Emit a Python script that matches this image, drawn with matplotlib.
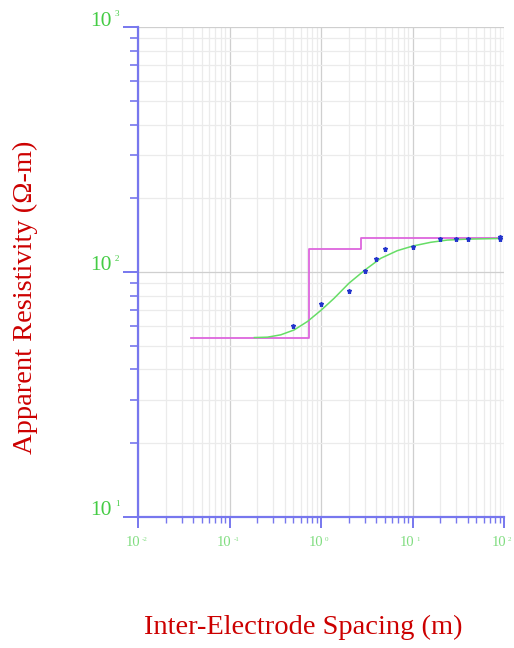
import matplotlib
matplotlib.use('Agg')
import matplotlib.pyplot as plt
from matplotlib.ticker import LogLocator, NullFormatter

# measured apparent resistivity
spacing = [0.5, 1, 2, 3, 4, 5, 10, 20, 30, 40, 90, 90]
resistivity = [60, 74, 83.5, 101, 113, 124, 127, 136, 136, 136, 139, 136]

# fitted curve
fit_spacing = [0.187, 0.26, 0.363, 0.508, 0.711, 1.01, 1.39, 2.02, 3.02, 4.49,
               6.82, 10.1, 15.8, 24.0, 39.6, 90]
fit_resistivity = [54.0, 54.2, 55.4, 58.0, 62.8, 70.0, 78.1, 90.0, 101.9, 113.7,
                   122.2, 127.7, 132.2, 135.0, 136.2, 137.0]

# layered model (step)
model_depth = [0.038, 0.73, 2.71, 90]
model_rho = [53.7, 124, 137.5, 137.5]

y_ticks = [10, 100, 1000]
y_exp = ['1', '2', '3']
x_ticks = [0.01, 0.1, 1, 10, 100]
x_exp = ['-2', '-1', '0', '1', '2']

blue = '#7777ee'
green = '#44cc44'
light_green = '#80dd80'
red = '#cc0000'

fig = plt.figure(figsize=(5.14, 6.48), dpi=100)
ax = fig.add_axes([0.2685, 0.2022, 0.7121, 0.7561])
ax.set_xscale('log')
ax.set_yscale('log')
ax.set_xlim(0.01, 100)
ax.set_ylim(10, 1000)

ax.xaxis.set_major_locator(LogLocator(base=10))
ax.xaxis.set_minor_locator(LogLocator(base=10, subs=range(2, 10)))
ax.yaxis.set_major_locator(LogLocator(base=10))
ax.yaxis.set_minor_locator(LogLocator(base=10, subs=range(2, 10)))
ax.xaxis.set_major_formatter(NullFormatter())
ax.xaxis.set_minor_formatter(NullFormatter())
ax.yaxis.set_major_formatter(NullFormatter())
ax.yaxis.set_minor_formatter(NullFormatter())

ax.grid(True, which='major', color='#cfcfcf', linewidth=0.9)
ax.grid(True, which='minor', color='#ebebeb', linewidth=0.9)
ax.set_axisbelow(True)

for s in ['top', 'right']:
    ax.spines[s].set_visible(False)
for s in ['left', 'bottom']:
    ax.spines[s].set_color(blue)
    ax.spines[s].set_linewidth(1.6)

ax.tick_params(axis='y', which='major', length=10.8, width=1.4, color=blue, direction='out')
ax.tick_params(axis='y', which='minor', length=5.8, width=1.2, color=blue, direction='out')
ax.tick_params(axis='x', which='major', length=7.9, width=1.4, color=blue, direction='out')
ax.tick_params(axis='x', which='minor', length=4.3, width=1.0, color=blue, direction='out')

# model and fit
ax.step(model_depth, model_rho, where='post', color='#dd66dd', linewidth=1.3)
ax.plot(fit_spacing, fit_resistivity, color='#66dd66', linewidth=1.1)
ax.plot(spacing, resistivity, linestyle='none', marker='*', markersize=3.6,
        color='#2233cc')

# tick labels
for v, e in zip(y_ticks, y_exp):
    ax.annotate('10', xy=(0, v), xycoords=('axes fraction', 'data'),
                xytext=(-26, 6), textcoords='offset pixels', ha='right', va='center',
                color=green, fontsize=15.5, family='Liberation Serif')
    ax.annotate(e, xy=(0, v), xycoords=('axes fraction', 'data'),
                xytext=(-23, 13), textcoords='offset pixels', ha='left', va='center',
                color=green, fontsize=6.5, family='Liberation Serif')
for v, e in zip(x_ticks, x_exp):
    ax.annotate('10', xy=(v, 0), xycoords=('data', 'axes fraction'),
                xytext=(2, -26), textcoords='offset pixels', ha='right', va='center',
                color=light_green, fontsize=10.5, family='Liberation Serif')
    ax.annotate(e, xy=(v, 0), xycoords=('data', 'axes fraction'),
                xytext=(4, -23), textcoords='offset pixels', ha='left', va='center',
                color=light_green, fontsize=5, family='Liberation Serif')

fig.text(25 / 514, 1 - 297 / 648, 'Apparent Resistivity (Ω-m)', rotation=90,
         ha='center', va='center', color=red, fontsize=20.5, family='Liberation Serif')
fig.text(303 / 514, 1 - 627 / 648, 'Inter-Electrode Spacing (m)',
         ha='center', va='center', color=red, fontsize=20.5, family='Liberation Serif')

fig.savefig('out.png', dpi=100)
